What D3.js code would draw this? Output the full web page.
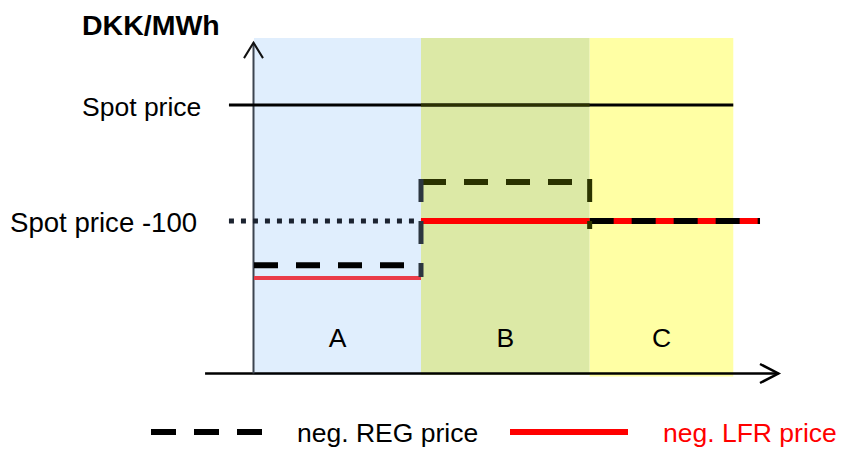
<!DOCTYPE html>
<html><head><meta charset="utf-8">
<script src="https://cdn.jsdelivr.net/npm/d3@7"></script>
<style>body{margin:0;background:#fff}svg{display:block}text{font-family:"Liberation Sans",Arial,sans-serif}</style>
</head><body><svg id="c" width="841" height="450"></svg>
<script>
// ---- data (schematic units) ----
const periods = ["A", "B", "C"];
const periodBounds = [0, 10, 20.1, 28.7];        // time units
const periodColors = ["#e0eefd", "#dce9a6", "#ffffa4"];
const spotPrice = 80;
const spotMinus100 = 45.45;
const regPrice = [32.3, 57.1, 45.45];   // neg. REG price per period
const lfrPrice = [28.5, 45.45, 45.45];  // neg. LFR price per period
const yLabels = [{text: "Spot price", v: spotPrice}, {text: "Spot price -100", v: spotMinus100}];
const legendItems = ["neg. REG price", "neg. LFR price"];

const svg = d3.select("#c");
const x = d3.scaleLinear().domain([0, 10]).range([254, 421]);
const y = d3.scaleLinear().domain([0, 100]).range([373.5, 38]);

// regions
svg.selectAll("rect.p").data(periods).join("rect")
  .attr("x", (d, i) => x(periodBounds[i]))
  .attr("width", (d, i) => x(periodBounds[i + 1]) - x(periodBounds[i]))
  .attr("y", y(100))
  .attr("height", (d, i) => y(0) - y(100) + (i === 2 ? 3 : 1.5))
  .attr("fill", (d, i) => periodColors[i]);

// region labels
svg.selectAll("text.p").data(periods).join("text")
  .attr("x", (d, i) => (x(periodBounds[i]) + x(periodBounds[i + 1])) / 2)
  .attr("y", 347).attr("text-anchor", "middle")
  .attr("font-size", 26.5).attr("fill", "#000").text(d => d);

// axes
svg.append("line").attr("x1", x(-2.93)).attr("x2", x(31.4)).attr("y1", y(0)).attr("y2", y(0))
  .attr("stroke", "#000").attr("stroke-width", 2.5);
svg.append("path").attr("d", `M${x(30.3)},${y(0) - 9.5}L${x(31.4)},${y(0)}L${x(30.3)},${y(0) + 9.5}`)
  .attr("fill", "none").attr("stroke", "#000").attr("stroke-width", 2.5);
svg.append("line").attr("x1", x(0) - 0.5).attr("x2", x(0) - 0.5).attr("y1", y(98.6)).attr("y2", y(0))
  .attr("stroke", "#3c4450").attr("stroke-width", 2);
svg.append("path").attr("d", `M${x(0) - 10},${y(94)}L${x(0) - 0.5},${y(98.6)}L${x(0) + 9},${y(94)}`)
  .attr("fill", "none").attr("stroke", "#111").attr("stroke-width", 2);

// spot price line
svg.append("line").attr("x1", x(-1.5)).attr("x2", x(periodBounds[3])).attr("y1", y(spotPrice)).attr("y2", y(spotPrice))
  .attr("stroke", "#000").attr("stroke-width", 3);
svg.append("line").attr("x1", x(periodBounds[1])).attr("x2", x(periodBounds[2])).attr("y1", y(spotPrice)).attr("y2", y(spotPrice))
  .attr("stroke", "#2a3000").attr("stroke-width", 3);

// spot price -100 dotted
svg.append("line").attr("x1", x(-1.5)).attr("x2", x(periodBounds[1])).attr("y1", y(spotMinus100)).attr("y2", y(spotMinus100))
  .attr("stroke", "#1c2330").attr("stroke-width", 5).attr("stroke-dasharray", "5,7");

// LFR price
const lfrEnd = [periodBounds[1], periodBounds[2], 30.3];
svg.selectAll("line.lfr").data(lfrPrice).join("line")
  .attr("x1", (d, i) => x(periodBounds[i])).attr("x2", (d, i) => x(lfrEnd[i]))
  .attr("y1", d => y(d)).attr("y2", d => y(d))
  .attr("stroke", (d, i) => i === 0 ? "#ea3c48" : "#ff0000")
  .attr("stroke-width", (d, i) => i === 0 ? 4 : 6);

// REG price dashed
const regColors = ["#000", "#2a3200", "#000"];
svg.selectAll("line.reg").data(regPrice).join("line")
  .attr("x1", (d, i) => x(periodBounds[i]) + (i === 1 ? 1 : 0)).attr("x2", (d, i) => x(lfrEnd[i]))
  .attr("y1", d => y(d)).attr("y2", d => y(d))
  .attr("stroke", (d, i) => regColors[i]).attr("stroke-width", 6).attr("stroke-dasharray", "24,18");
// vertical connectors
svg.append("line").attr("x1", x(periodBounds[1])).attr("x2", x(periodBounds[1]))
  .attr("y1", y(regPrice[1]) - 3).attr("y2", y(lfrPrice[0]) - 1)
  .attr("stroke", "#2c3640").attr("stroke-width", 5).attr("stroke-dasharray", "23,19");
svg.append("line").attr("x1", x(periodBounds[2])).attr("x2", x(periodBounds[2]))
  .attr("y1", y(regPrice[1]) - 3).attr("y2", y(regPrice[2]) + 8)
  .attr("stroke", "#2c3400").attr("stroke-width", 5).attr("stroke-dasharray", "23,19");

// y labels
svg.selectAll("text.yl").data(yLabels).join("text")
  .attr("x", (d, i) => i === 0 ? 82 : 10).attr("y", d => y(d.v) + 11)
  .attr("font-size", (d, i) => i === 0 ? 26.5 : 27.6).attr("fill", "#000").text(d => d.text);

// unit title
svg.append("text").attr("x", 82).attr("y", 35).attr("font-size", 28.5).attr("font-weight", "bold")
  .attr("fill", "#000").text("DKK/MWh");

// legend
svg.append("line").attr("x1", 151).attr("x2", 262).attr("y1", 432).attr("y2", 432)
  .attr("stroke", "#000").attr("stroke-width", 6).attr("stroke-dasharray", "25,18");
svg.append("text").attr("x", 297).attr("y", 442).attr("font-size", 26.5).attr("fill", "#000").text(legendItems[0]);
svg.append("line").attr("x1", 510).attr("x2", 628).attr("y1", 432).attr("y2", 432)
  .attr("stroke", "#ff0000").attr("stroke-width", 6);
svg.append("text").attr("x", 663).attr("y", 442).attr("font-size", 26.5).attr("fill", "#ff0000").text(legendItems[1]);
</script></body></html>
